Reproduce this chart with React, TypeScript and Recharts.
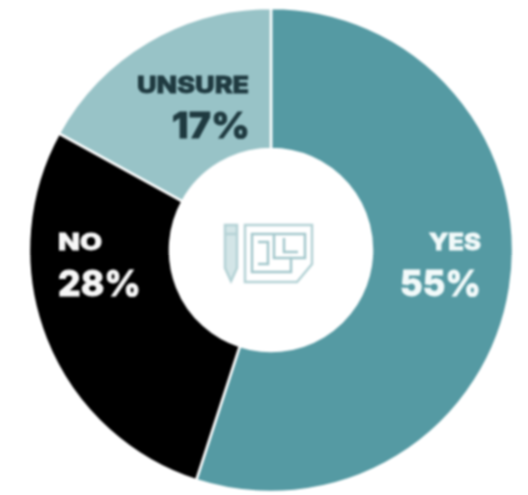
import { PieChart, Pie, Cell } from 'recharts'

const categories = ['YES', 'NO', 'UNSURE']
const shares = [55, 28, 17]
const colors = ['#559aa3', '#000000', '#98c3c7']
const labelColors = ['#f2fafa', '#f7f7f7', '#1f3a40']

const data = categories.map((name, i) => ({ name, value: shares[i] }))
const font = 'Inter, "Open Sans", sans-serif'

// where each label block sits: left edge, baselines, and the width of each line
const labelPlaces = [
  { x: 429, nameY: 250, nameW: 52, valueX: 400, valueY: 296, valueW: 81 },
  { x: 58, nameY: 250, nameW: 44, valueX: 58, valueY: 296, valueW: 83 },
  { x: 137, nameY: 93, nameW: 112, valueX: 172, valueY: 138, valueW: 78 },
]

function renderLabel({ index }: { index: number }) {
  const place = labelPlaces[index]
  const ink = labelColors[index]
  return (
    <g key={categories[index]} fontFamily={font} fontWeight={800} fill={ink} stroke={ink} strokeWidth={0.9} textAnchor="start">
      <text x={place.x} y={place.nameY} fontSize={23} fontWeight={800} textLength={place.nameW} lengthAdjust="spacingAndGlyphs">
        {categories[index]}
      </text>
      <text x={place.valueX} y={place.valueY} fontSize={36} fontWeight={800} textLength={place.valueW} lengthAdjust="spacingAndGlyphs">
        {shares[index]}%
      </text>
    </g>
  )
}

function BlueprintIcon() {
  return (
    <g fill="none" stroke="#b4d2d5" strokeWidth={2.5}>
      <path d="M225 225 H237 V268 L231 281 L225 268 Z" fill="#d3e5e7" />
      <path d="M225 234 H237" />
      <path d="M245 225 H312 V264 L297 282 H245 Z" />
      <path d="M252 234 H305 V258 H291 V272 H252 Z" stroke="#a4c8cc" />
      <path d="M274 234 V258 H291 M258 242 H268 V264 H258 M284 238 V252 H298" stroke="#a4c8cc" />
    </g>
  )
}

export default function App() {
  return (
    <div style={{ position: 'absolute', left: 0, top: 0, width: 528, height: 495, background: '#ffffff', filter: 'blur(0.9px)' }}>
      <PieChart width={528} height={495} margin={{ top: 0, right: 0, bottom: 0, left: 0 }}>
        <Pie
          data={data}
          dataKey="value"
          nameKey="name"
          cx={271}
          cy={250}
          outerRadius={242}
          innerRadius={101}
          startAngle={90}
          endAngle={-270}
          stroke="#ffffff"
          strokeWidth={2.5}
          isAnimationActive={false}
          label={renderLabel}
          labelLine={false}
        >
          {data.map((d, i) => (
            <Cell key={d.name} fill={colors[i]} />
          ))}
        </Pie>
        <BlueprintIcon />
      </PieChart>
    </div>
  )
}
